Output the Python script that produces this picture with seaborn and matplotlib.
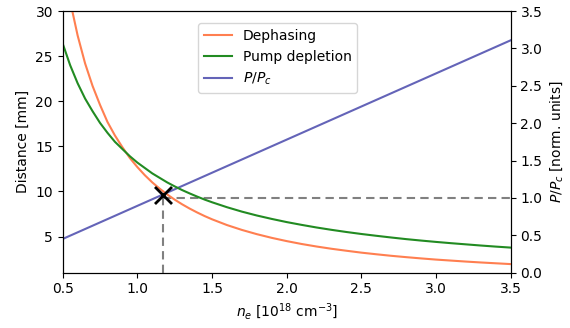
import pandas as pd
import matplotlib
matplotlib.use("Agg")
import matplotlib.pyplot as plt
import seaborn as sns

# electron density [1e18 cm^-3]
density = [0.5, 0.55, 0.6, 0.65, 0.7, 0.75, 0.8, 0.85, 0.9, 0.95, 1.0, 1.05, 1.1, 1.15,
           1.2, 1.25, 1.3, 1.35, 1.4, 1.45, 1.5, 1.6, 1.7, 1.8, 1.9, 2.0, 2.1, 2.2, 2.3,
           2.4, 2.5, 2.6, 2.7, 2.8, 2.9, 3.0, 3.1, 3.2, 3.3, 3.4, 3.5]
# distances [mm]
dephasing = [35.9, 31.1, 27.3, 24.2, 21.7, 19.6, 17.7, 16.2, 14.9, 13.7, 12.7, 11.8, 11.0, 10.3,
             9.66, 9.09, 8.57, 8.10, 7.67, 7.27, 6.91, 6.27, 5.73, 5.26, 4.85, 4.49, 4.17, 3.89, 3.64,
             3.42, 3.21, 3.03, 2.86, 2.71, 2.57, 2.44, 2.33, 2.22, 2.12, 2.03, 1.94]
pump_depletion = [26.4, 24.0, 22.0, 20.3, 18.9, 17.6, 16.5, 15.5, 14.7, 13.9, 13.2, 12.6, 12.0, 11.5,
                  11.0, 10.56, 10.15, 9.78, 9.43, 9.10, 8.80, 8.25, 7.76, 7.33, 6.95, 6.60, 6.29, 6.00, 5.74,
                  5.50, 5.28, 5.08, 4.89, 4.71, 4.55, 4.40, 4.26, 4.13, 4.00, 3.88, 3.77]
# P/Pc (linear)
power_density = [0.5, 3.5]
power_ratio = [0.45, 3.11]

# operating point
op_density = 1.17
op_distance = 9.6

df = pd.DataFrame({"ne": density, "deph": dephasing, "pump": pump_depletion})
dfp = pd.DataFrame({"ne": power_density, "p": power_ratio})

fig, ax = plt.subplots(figsize=(5.7, 3.28), dpi=100)
fig.subplots_adjust(left=0.11, right=0.896, top=0.966, bottom=0.169)
ax2 = ax.twinx()
# left axis drawn on top so the marker sits above everything
ax.set_zorder(ax2.get_zorder() + 1)
ax.patch.set_visible(False)

sns.lineplot(data=df, x="ne", y="deph", ax=ax, color="coral", lw=1.5, label="Dephasing")
sns.lineplot(data=df, x="ne", y="pump", ax=ax, color="forestgreen", lw=1.5, label="Pump depletion")
sns.lineplot(data=dfp, x="ne", y="p", ax=ax2, color="#6464b8", lw=1.5, label="$P/P_c$")

ax.set_xlim(0.5, 3.5)
ax.set_ylim(1, 30)
ax2.set_ylim(0, 3.5)

# dashed guides + marker
ax.plot([op_density, op_density], [1, op_distance], ls=(0, (4, 2.5)), color="grey", lw=1.5)
ax2.plot([op_density, 3.5], [1, 1], ls=(0, (4, 2.5)), color="grey", lw=1.5)
ax.scatter([op_density], [op_distance], marker="x", s=150, color="black", lw=2, zorder=5)

ax.set_xlabel("$n_e$ [$10^{18}$ cm$^{-3}$]")
ax.set_ylabel("Distance [mm]")
ax2.set_ylabel("$P/P_c$ [norm. units]")
ax.set_yticks([5, 10, 15, 20, 25, 30])

h1, l1 = ax.get_legend_handles_labels()
h2, l2 = ax2.get_legend_handles_labels()
ax2.get_legend().remove()
ax.legend(h1 + h2, l1 + l2, loc="upper center", bbox_to_anchor=(0.48, 0.98))

plt.savefig("out.png", dpi=100)
